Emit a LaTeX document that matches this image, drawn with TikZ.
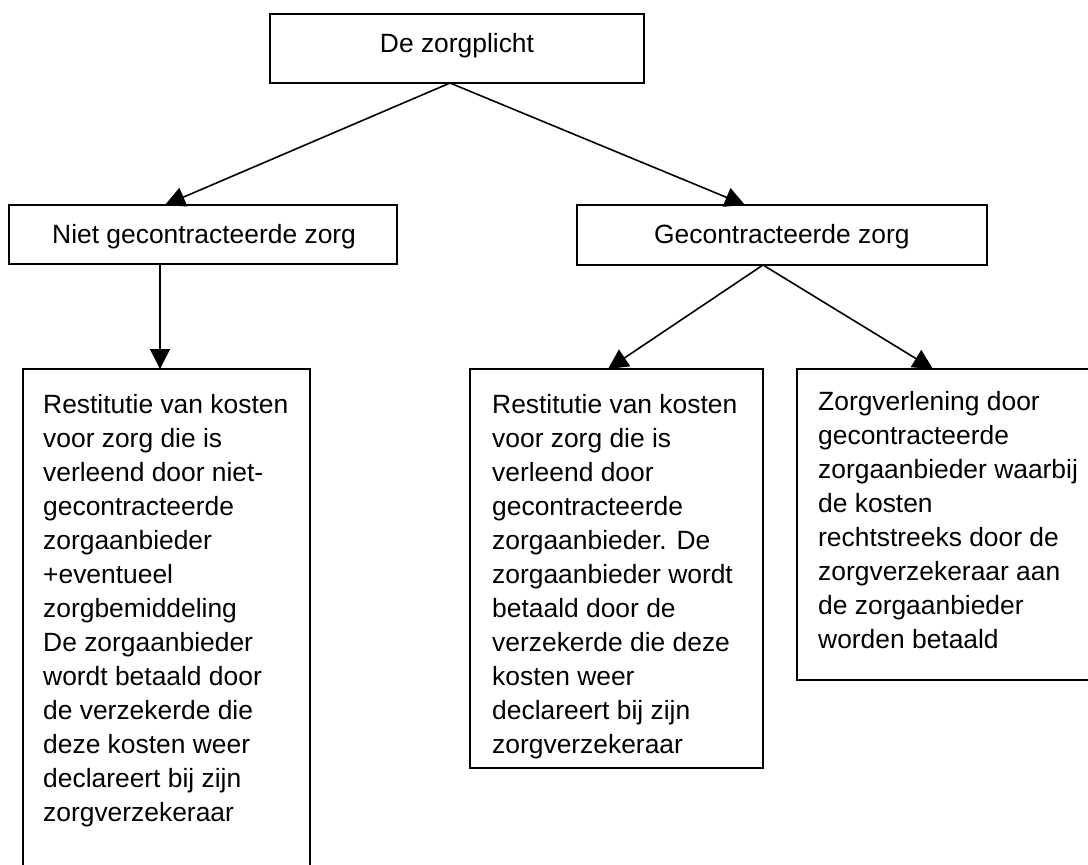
\documentclass[tikz,border=0pt]{standalone}
\usepackage{fontspec}
\setmainfont{Liberation Sans}
\usetikzlibrary{arrows.meta}
\begin{document}
\begin{tikzpicture}[x=1pt,y=-1pt,
  box/.style={draw, line width=1.8pt, inner sep=0pt, outer sep=0pt, anchor=north west},
  txt/.style={inner sep=0pt, font=\fontsize{26.4}{34}\selectfont, align=left, anchor=base west},
  conn/.style={line width=1.6pt, -{Triangle[length=20pt,width=20pt]}}]
\useasboundingbox (0,0) rectangle (1088,865);
\fill[white] (0,0) rectangle (1088,865);
\clip (0,0) rectangle (1088,865);
% boxes
\node[box, minimum width=374pt, minimum height=69pt] (top) at (270,14) {};
\node[box, minimum width=388pt, minimum height=59pt] (nl) at (9,205) {};
\node[box, minimum width=410pt, minimum height=60pt] (gc) at (577,205) {};
\node[box, minimum width=287pt, minimum height=520pt] (b1) at (23,369) {};
\node[box, minimum width=293pt, minimum height=399pt] (b2) at (470,369) {};
\node[box, minimum width=310pt, minimum height=311pt] (b3) at (797,369) {};
% texts (anchored at the baseline of their last line)
\node[txt, anchor=base] (toptxt) at (457,52) {De zorgplicht};
\node[txt] (nltxt) at (52,243) {Niet gecontracteerde zorg};
\node[txt] (gctxt) at (654,243) {Gecontracteerde zorg};
\node[txt] (b1txt) at (43,821) {Restitutie van kosten\\voor zorg die is\\verleend door niet-\\gecontracteerde\\zorgaanbieder\\+eventueel\\zorgbemiddeling\\De zorgaanbieder\\wordt betaald door\\de verzekerde die\\deze kosten weer\\declareert bij zijn\\zorgverzekeraar};
\node[txt] (b2txt) at (492,753) {Restitutie van kosten\\voor zorg die is\\verleend door\\gecontracteerde\\zorgaanbieder. De\\zorgaanbieder wordt\\betaald door de\\verzekerde die deze\\kosten weer\\declareert bij zijn\\zorgverzekeraar};
\node[txt] (b3txt) at (818,648) {Zorgverlening door\\gecontracteerde\\zorgaanbieder waarbij\\de kosten\\rechtstreeks door de\\zorgverzekeraar aan\\de zorgaanbieder\\worden betaald};
% connectors
\draw[conn] ([xshift=-7pt]top.south) -- ([xshift=-38pt]nl.north);
\draw[conn] ([xshift=-7pt]top.south) -- ([xshift=-37pt]gc.north);
\draw[conn] ([xshift=-43pt]nl.south) -- ([xshift=-6.5pt]b1.north);
\draw[conn] ([xshift=-19pt]gc.south) -- ([xshift=-8.5pt]b2.north);
\draw[conn] ([xshift=-19pt]gc.south) -- ([xshift=-19pt]b3.north);
\end{tikzpicture}
\end{document}
